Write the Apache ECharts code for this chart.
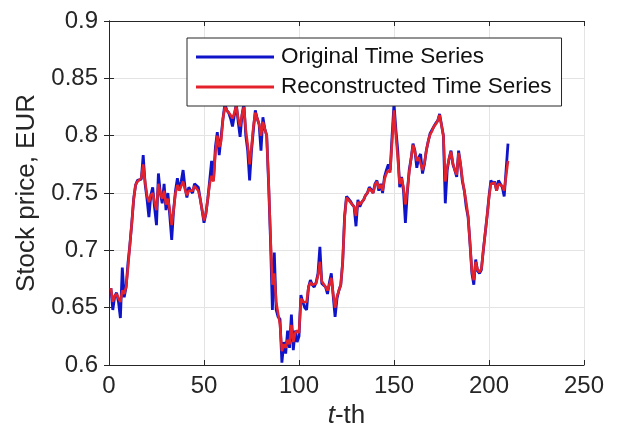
<!DOCTYPE html>
<html>
  <head>
    <meta charset="UTF-8" />
    <title>Stock price</title>
    <style>
      html, body { margin: 0; padding: 0; background: #fff; }
      #main { width: 617px; height: 440px; }
    </style>
  </head>
  <body>
    <div id="main"></div>
  </body>
  <script src="https://cdn.jsdelivr.net/npm/echarts@6/dist/echarts.min.js"></script>
  <script>
    var xTicks = [0, 50, 100, 150, 200, 250];
    var yTicks = [0.6, 0.65, 0.7, 0.75, 0.8, 0.85, 0.9];
    var seriesNames = ["Original Time Series", "Reconstructed Time Series"];
    // values for t = 1..210
    var original = [
      0.667, 0.648, 0.660, 0.663, 0.655, 0.641, 0.685, 0.659, 0.668, 0.689,
      0.705, 0.724, 0.745, 0.757, 0.761, 0.760, 0.762, 0.783, 0.758, 0.745,
      0.729, 0.748, 0.755, 0.737, 0.722, 0.767, 0.750, 0.741, 0.758, 0.735,
      0.750, 0.730, 0.709, 0.735, 0.752, 0.763, 0.752, 0.760, 0.770, 0.755,
      0.746, 0.755, 0.752, 0.750, 0.758, 0.757, 0.755, 0.745, 0.735, 0.724,
      0.732, 0.745, 0.761, 0.778, 0.761, 0.790, 0.803, 0.783, 0.784, 0.815,
      0.828, 0.822, 0.820, 0.815, 0.808, 0.818, 0.828, 0.812, 0.799, 0.818,
      0.828, 0.800, 0.787, 0.761, 0.787, 0.805, 0.822, 0.815, 0.810, 0.787,
      0.816, 0.806, 0.800, 0.758, 0.709, 0.648, 0.698, 0.648, 0.642, 0.640,
      0.602, 0.620, 0.610, 0.630, 0.615, 0.644, 0.613, 0.630, 0.620, 0.625,
      0.661, 0.655, 0.650, 0.648, 0.668, 0.674, 0.670, 0.668, 0.672, 0.680,
      0.703, 0.671, 0.672, 0.668, 0.662, 0.672, 0.680, 0.660, 0.642, 0.658,
      0.665, 0.670, 0.690, 0.730, 0.747, 0.745, 0.743, 0.740, 0.738, 0.721,
      0.744, 0.738, 0.742, 0.744, 0.748, 0.750, 0.755, 0.753, 0.750, 0.758,
      0.761, 0.752, 0.758, 0.750, 0.764, 0.770, 0.775, 0.770, 0.800, 0.828,
      0.805, 0.787, 0.755, 0.764, 0.752, 0.724, 0.750, 0.770, 0.780, 0.793,
      0.787, 0.772, 0.781, 0.784, 0.767, 0.775, 0.787, 0.795, 0.802, 0.805,
      0.808, 0.811, 0.813, 0.819, 0.819, 0.800, 0.741, 0.770, 0.780, 0.787,
      0.775, 0.770, 0.764, 0.787, 0.775, 0.760, 0.752, 0.738, 0.729, 0.706,
      0.680, 0.670, 0.692, 0.682, 0.680, 0.683, 0.700, 0.715, 0.730, 0.747,
      0.761, 0.758, 0.760, 0.752, 0.761, 0.758, 0.755, 0.747, 0.770, 0.793
    ];
    var reconstructed = [
      0.667, 0.655, 0.660, 0.662, 0.658, 0.655, 0.665, 0.662, 0.668, 0.685,
      0.705, 0.724, 0.745, 0.757, 0.760, 0.760, 0.763, 0.775, 0.760, 0.748,
      0.742, 0.748, 0.750, 0.742, 0.735, 0.758, 0.750, 0.745, 0.752, 0.740,
      0.745, 0.735, 0.722, 0.735, 0.750, 0.757, 0.752, 0.756, 0.760, 0.753,
      0.748, 0.752, 0.752, 0.752, 0.756, 0.756, 0.752, 0.745, 0.735, 0.726,
      0.732, 0.745, 0.758, 0.765, 0.760, 0.785, 0.800, 0.790, 0.795, 0.815,
      0.825, 0.822, 0.822, 0.818, 0.815, 0.820, 0.826, 0.815, 0.808, 0.818,
      0.825, 0.805, 0.792, 0.775, 0.790, 0.808, 0.820, 0.815, 0.810, 0.800,
      0.812, 0.806, 0.800, 0.760, 0.712, 0.670, 0.680, 0.655, 0.645, 0.635,
      0.612, 0.618, 0.615, 0.622, 0.618, 0.635, 0.620, 0.628, 0.630, 0.628,
      0.658, 0.655, 0.655, 0.655, 0.668, 0.672, 0.670, 0.669, 0.671, 0.678,
      0.690, 0.673, 0.672, 0.668, 0.665, 0.670, 0.676, 0.662, 0.650, 0.660,
      0.665, 0.670, 0.690, 0.728, 0.746, 0.745, 0.742, 0.740, 0.738, 0.730,
      0.742, 0.740, 0.742, 0.744, 0.748, 0.750, 0.754, 0.752, 0.750, 0.757,
      0.760, 0.754, 0.757, 0.752, 0.762, 0.767, 0.770, 0.768, 0.795, 0.822,
      0.800, 0.780, 0.758, 0.763, 0.755, 0.740, 0.752, 0.768, 0.780, 0.792,
      0.786, 0.778, 0.781, 0.782, 0.770, 0.776, 0.787, 0.795, 0.801, 0.804,
      0.808, 0.810, 0.813, 0.818, 0.818, 0.800, 0.760, 0.772, 0.780, 0.786,
      0.776, 0.770, 0.766, 0.785, 0.776, 0.762, 0.752, 0.742, 0.730, 0.706,
      0.682, 0.674, 0.690, 0.683, 0.681, 0.684, 0.700, 0.715, 0.730, 0.746,
      0.758, 0.757, 0.759, 0.752, 0.758, 0.757, 0.756, 0.752, 0.765, 0.778
    ];

    var myChart = echarts.init(document.getElementById("main"));
    var font = "Liberation Sans, Arial, sans-serif";
    var textColor = "#262626";
    var axisColor = "#262626";

    function toPairs(arr) {
      var out = [];
      for (var i = 0; i < arr.length; i++) {
        out.push([i + 1, arr[i]]);
      }
      return out;
    }

    var option = {
      animation: false,
      backgroundColor: "#fff",
      grid: {
        left: 109,
        right: 33,
        top: 21,
        bottom: 75,
        show: false,
      },
      legend: {
        orient: "vertical",
        left: 187,
        top: 38,
        padding: [7, 10, 7, 9],
        itemGap: 6,
        itemWidth: 78,
        itemHeight: 3,
        icon: "rect",
        backgroundColor: "#fff",
        borderColor: "#262626",
        borderWidth: 1,
        borderRadius: 0,
        textStyle: {
          fontFamily: font,
          fontSize: 22.5,
          lineHeight: 24,
          color: "#111",
          padding: [0, 0, 0, 2],
        },
        data: seriesNames,
      },
      xAxis: [
        {
          type: "value",
          min: xTicks[0],
          max: xTicks[xTicks.length - 1],
          interval: 50,
          name: "{i|t}-th",
          nameLocation: "middle",
          nameGap: 34,
          nameTextStyle: {
            fontFamily: font,
            fontSize: 26,
            color: textColor,
            rich: {
              i: { fontStyle: "italic", fontFamily: font, fontSize: 26, color: textColor },
            },
          },
          axisLine: { show: true, lineStyle: { color: axisColor, width: 1 } },
          axisTick: { show: true, inside: true, length: 5, lineStyle: { color: axisColor } },
          axisLabel: { fontFamily: font, fontSize: 24, color: textColor, margin: 9 },
          splitLine: { show: true, lineStyle: { color: "#e4e4e4", width: 1 } },
        },
        {
          type: "value",
          position: "top",
          min: xTicks[0],
          max: xTicks[xTicks.length - 1],
          interval: 50,
          axisLine: { show: true, lineStyle: { color: axisColor, width: 1 } },
          axisTick: { show: true, inside: true, length: 5, lineStyle: { color: axisColor } },
          axisLabel: { show: false },
          splitLine: { show: false },
        },
      ],
      yAxis: [
        {
          type: "value",
          min: yTicks[0],
          max: yTicks[yTicks.length - 1],
          interval: 0.05,
          name: "Stock price, EUR",
          nameLocation: "middle",
          nameGap: 69,
          nameTextStyle: { fontFamily: font, fontSize: 26, color: textColor },
          axisLine: { show: true, lineStyle: { color: axisColor, width: 1 } },
          axisTick: { show: true, inside: true, length: 5, lineStyle: { color: axisColor } },
          axisLabel: {
            fontFamily: font,
            fontSize: 24,
            color: textColor,
            margin: 11,
            formatter: function (v) {
              return String(Math.round(v * 100) / 100);
            },
          },
          splitLine: { show: true, lineStyle: { color: "#e4e4e4", width: 1 } },
        },
        {
          type: "value",
          position: "right",
          min: yTicks[0],
          max: yTicks[yTicks.length - 1],
          interval: 0.05,
          axisLine: { show: true, lineStyle: { color: axisColor, width: 1 } },
          axisTick: { show: true, inside: true, length: 5, lineStyle: { color: axisColor } },
          axisLabel: { show: false },
          splitLine: { show: false },
        },
      ],
      series: [
        {
          name: seriesNames[0],
          type: "line",
          data: toPairs(original),
          showSymbol: false,
          symbol: "none",
          lineStyle: { color: "#0f14c8", width: 2.8 },
          itemStyle: { color: "#0f14c8" },
          z: 2,
        },
        {
          name: seriesNames[1],
          type: "line",
          data: toPairs(reconstructed),
          showSymbol: false,
          symbol: "none",
          lineStyle: { color: "#e3222c", width: 2.6 },
          itemStyle: { color: "#e3222c" },
          z: 3,
        },
      ],
    };
    myChart.setOption(option);
  </script>
</html>
